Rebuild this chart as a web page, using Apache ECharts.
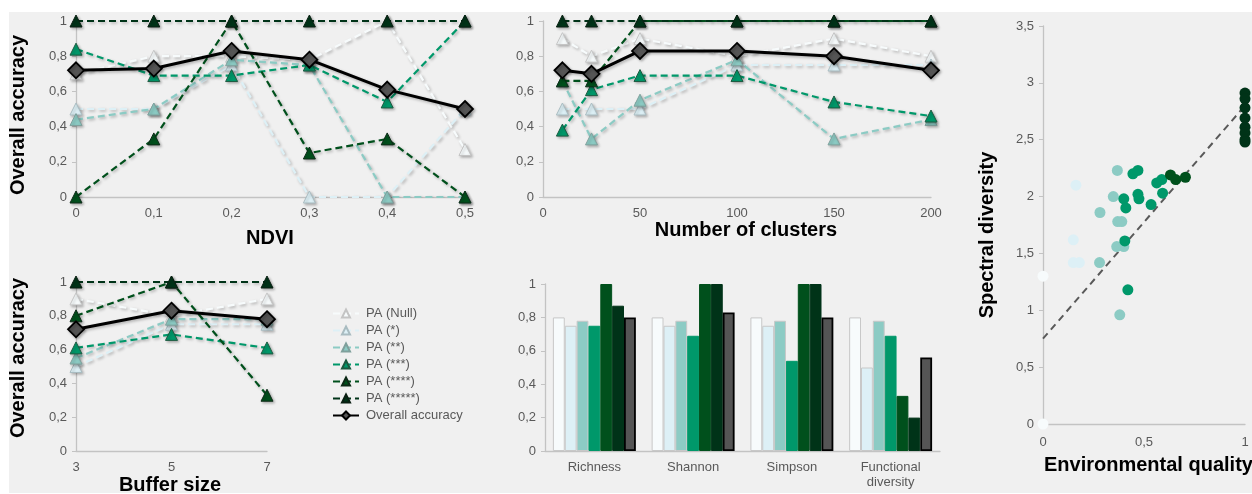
<!DOCTYPE html>
<html><head><meta charset="utf-8">
<script src="https://cdn.jsdelivr.net/npm/echarts@6/dist/echarts.min.js"></script>
<style>
html,body{margin:0;padding:0;background:#fff;width:1252px;height:494px;overflow:hidden}
#bg{position:absolute;left:9px;top:12px;width:1243px;height:481px;background:#f0f0f0}
#c{position:absolute;left:0;top:0;width:1252px;height:494px}
</style></head><body><div id="bg"></div><div id="c"></div>
<script>
// ---------- DATA ----------
const seriesNames = ['PA (Null)','PA (*)','PA (**)','PA (***)','PA (****)','PA (*****)','Overall accuracy'];

// Panel 1: NDVI
const ndviX = [0, 0.1, 0.2, 0.3, 0.4, 0.5];
const ndviNull = [0.70, 0.80, 0.80, 0.78, 1.00, 0.27];
const ndvi1 = [0.50, 0.50, 0.75, 0.00, 0.00, 0.50];
const ndvi2 = [0.44, 0.50, 0.78, 0.75, 0.00, 0.00];
const ndvi3 = [0.84, 0.69, 0.69, 0.75, 0.54, 1.00];
const ndvi4 = [0.00, 0.33, 1.00, 0.25, 0.33, 0.00];
const ndvi5 = [1, 1, 1, 1, 1, 1];
const ndviOA = [0.72, 0.73, 0.83, 0.78, 0.61, 0.50];

// Panel 2: Number of clusters
const clusX = [10, 25, 50, 100, 150, 200];
const clusNull = [0.90, 0.80, 0.90, 0.80, 0.90, 0.80];
const clus1 = [0.50, 0.50, 0.50, 0.75, 0.75, 0.75];
const clus2 = [0.66, 0.33, 0.55, 0.78, 0.33, 0.44];
const clus3 = [0.38, 0.61, 0.69, 0.69, 0.54, 0.46];
const clus4 = [0.66, 0.66, 1, 1, 1, 1];
const clus5 = [1, 1, 1, 1, 1, 1];
const clusOA = [0.72, 0.70, 0.83, 0.83, 0.80, 0.72];

// Panel 3: Buffer size
const bufX = ['3', '5', '7'];
const bufNull = [0.90, 0.80, 0.90];
const buf1 = [0.50, 0.75, 0.75];
const buf2 = [0.55, 0.78, 0.78];
const buf3 = [0.61, 0.69, 0.61];
const buf4 = [0.80, 1.00, 0.33];
const buf5 = [1, 1, 1];
const bufOA = [0.72, 0.83, 0.78];

// Panel 4: bars
const barCats = ['Richness', 'Shannon', 'Simpson', 'Functional\ndiversity'];
const barNull = [0.80, 0.80, 0.80, 0.80];
const bar1 = [0.75, 0.75, 0.75, 0.50];
const bar2 = [0.78, 0.78, 0.78, 0.78];
const bar3 = [0.75, 0.69, 0.54, 0.69];
const bar4 = [1.00, 1.00, 1.00, 0.33];
const bar5 = [0.87, 1.00, 1.00, 0.20];
const barOA = [0.80, 0.83, 0.80, 0.56];

// Panel 5: scatter (Environmental quality, Spectral diversity)
const scNull = [[0, 1.30], [0, 0]];
const sc1 = [[0.163, 2.10], [0.15, 1.62], [0.15, 1.42], [0.18, 1.42]];
const sc2 = [[0.368, 2.23], [0.348, 2.00], [0.282, 1.86], [0.37, 1.78], [0.39, 1.78], [0.365, 1.56], [0.40, 1.56], [0.28, 1.42], [0.38, 0.96]];
const sc3 = [[0.445, 2.20], [0.47, 2.23], [0.40, 1.98], [0.41, 1.90], [0.47, 2.02], [0.475, 1.98], [0.535, 1.93], [0.563, 2.12], [0.588, 2.15], [0.592, 2.03], [0.405, 1.61], [0.42, 1.18]];
const sc4 = [[0.631, 2.19], [0.657, 2.15], [0.705, 2.17]];
const sc5 = [[1, 2.91], [1, 2.86], [1, 2.78], [1, 2.69], [1, 2.61], [1, 2.56], [1, 2.50], [1, 2.48]];
const trendX = [0, 1];
const trendY = [0.75, 2.80];

// ---------- STYLE ----------
const colors = ['#f7fbfc', '#ddf0f6', '#8ccbc4', '#00986a', '#00501c', '#003318', '#555555'];
const borders = ['#c4c4c4', '#a9bcc1', '#7fa09c', '#1d5a40', '#0d2a17', '#0a1f12', '#000000'];
const FONT = '"Liberation Sans", Arial, sans-serif';
const lbl = v => String(Math.round(v * 10) / 10).replace('.', ',');
const axLine = {show: true, lineStyle: {color: '#c3c3c3', width: 1.3}};

function yAxis(grid, max, interval) {
  return {type: 'value', gridIndex: grid, min: 0, max: max, interval: interval,
    axisLine: axLine, axisTick: {show: true, length: 4, lineStyle: {color: '#c3c3c3'}},
    splitLine: {show: false},
    axisLabel: {color: '#595959', fontSize: 13, fontFamily: FONT, margin: 9, formatter: lbl}};
}
function xLabel(extra) {
  return Object.assign({color: '#595959', fontSize: 13, fontFamily: FONT, margin: 10}, extra || {});
}

const panelData = [
  {grid: 0, x: ndviX, ys: [ndviNull, ndvi1, ndvi2, ndvi3, ndvi4, ndvi5, ndviOA]},
  {grid: 1, x: clusX, ys: [clusNull, clus1, clus2, clus3, clus4, clus5, clusOA]},
  {grid: 2, x: bufX, ys: [bufNull, buf1, buf2, buf3, buf4, buf5, bufOA]}
];
const shadow = {shadowColor: 'rgba(0,0,0,0.28)', shadowBlur: 3, shadowOffsetX: 1.5, shadowOffsetY: 1.5};

const series = [];
panelData.forEach(p => {
  p.ys.forEach((ys, i) => {
    const isOA = i === 6;
    series.push({
      type: 'line', name: seriesNames[i], xAxisIndex: p.grid, yAxisIndex: p.grid,
      data: p.x.map((x, k) => [x, ys[k]]),
      symbol: isOA ? 'diamond' : 'triangle',
      symbolSize: isOA ? 16 : 12,
      z: 2 + i,
      lineStyle: Object.assign({color: isOA ? '#000' : colors[i], width: isOA ? 3 : 2.2, type: isOA ? 'solid' : [7, 4]}, shadow),
      itemStyle: Object.assign({color: colors[i], borderColor: borders[i], borderWidth: isOA ? 1.8 : 1}, shadow),
      emphasis: {disabled: true}
    });
  });
});

[barNull, bar1, bar2, bar3, bar4, bar5, barOA].forEach((vals, i) => {
  series.push({
    type: 'bar', name: seriesNames[i], xAxisIndex: 3, yAxisIndex: 3, data: vals,
    barGap: '0%', barCategoryGap: '16%',
    itemStyle: {color: colors[i], borderColor: i === 6 ? '#000' : (i < 3 ? '#c8c8c8' : colors[i]), borderWidth: i === 6 ? 1.8 : 1},
    emphasis: {disabled: true}
  });
});

series.push({
  type: 'line', name: 'trend', xAxisIndex: 4, yAxisIndex: 4,
  data: trendX.map((x, k) => [x, trendY[k]]), showSymbol: false, symbol: 'none',
  lineStyle: {color: '#595959', width: 2, type: [7, 5]}, z: 1, emphasis: {disabled: true}
});
[scNull, sc1, sc2, sc3, sc4, sc5].forEach((pts, i) => {
  series.push({
    type: 'scatter', name: 'grp' + i, xAxisIndex: 4, yAxisIndex: 4, data: pts,
    symbolSize: 11, itemStyle: {color: colors[i], opacity: 1}, z: 3 + i, emphasis: {disabled: true}
  });
});

const titleStyle = {fontSize: 20, fontWeight: 'bold', fontFamily: FONT, fill: '#000', align: 'center', verticalAlign: 'middle'};
const gtext = (text, x, y, rot, extra) => ({type: 'text', x: x, y: y, rotation: rot || 0,
  style: Object.assign({}, titleStyle, {text: text}, extra || {})});

const option = {
  animation: false,
  backgroundColor: 'transparent',
  textStyle: {fontFamily: FONT},
  grid: [
    {left: 76, top: 21, width: 389, height: 176},
    {left: 543, top: 21, width: 388, height: 176},
    {left: 76, top: 282, width: 191, height: 169},
    {left: 545, top: 284, width: 395, height: 167},
    {left: 1043, top: 26, width: 202, height: 398}
  ],
  xAxis: [
    {type: 'value', gridIndex: 0, min: 0, max: 0.5, interval: 0.1, axisLine: axLine, axisTick: {show: false}, splitLine: {show: false}, axisLabel: xLabel({formatter: lbl})},
    {type: 'value', gridIndex: 1, min: 0, max: 200, interval: 50, axisLine: axLine, axisTick: {show: false}, splitLine: {show: false}, axisLabel: xLabel()},
    {type: 'category', gridIndex: 2, data: bufX, boundaryGap: false, axisLine: axLine, axisTick: {show: false}, axisLabel: xLabel()},
    {type: 'category', gridIndex: 3, data: barCats, axisLine: axLine, axisTick: {show: false}, axisLabel: xLabel({lineHeight: 15, margin: 9})},
    {type: 'value', gridIndex: 4, min: 0, max: 1, interval: 0.5, axisLine: axLine, axisTick: {show: false}, splitLine: {show: false}, axisLabel: xLabel({formatter: lbl, margin: 12})}
  ],
  yAxis: [yAxis(0, 1, 0.2), yAxis(1, 1, 0.2), yAxis(2, 1, 0.2), yAxis(3, 1, 0.2), yAxis(4, 3.5, 0.5)],
  legend: {
    orient: 'vertical', left: 327, top: 302, itemWidth: 26, itemHeight: 10, itemGap: 4,
    data: seriesNames,
    textStyle: {color: '#595959', fontSize: 13, fontFamily: FONT, padding: [0, 0, 0, 2]},
    selectedMode: false
  },
  graphic: [
    gtext('Overall accuracy', 18, 115, Math.PI / 2),
    gtext('NDVI', 270, 238, 0),
    gtext('Number of clusters', 746, 230, 0),
    gtext('Overall accuracy', 18, 358, Math.PI / 2),
    gtext('Buffer size', 170, 485, 0),
    gtext('Spectral diversity', 987, 235, Math.PI / 2),
    gtext('Environmental quality', 1044, 465, 0, {align: 'left'})
  ],
  series: series
};
const chart = echarts.init(document.getElementById('c'), null, {renderer: 'canvas'});
chart.setOption(option);
</script>
</body></html>
